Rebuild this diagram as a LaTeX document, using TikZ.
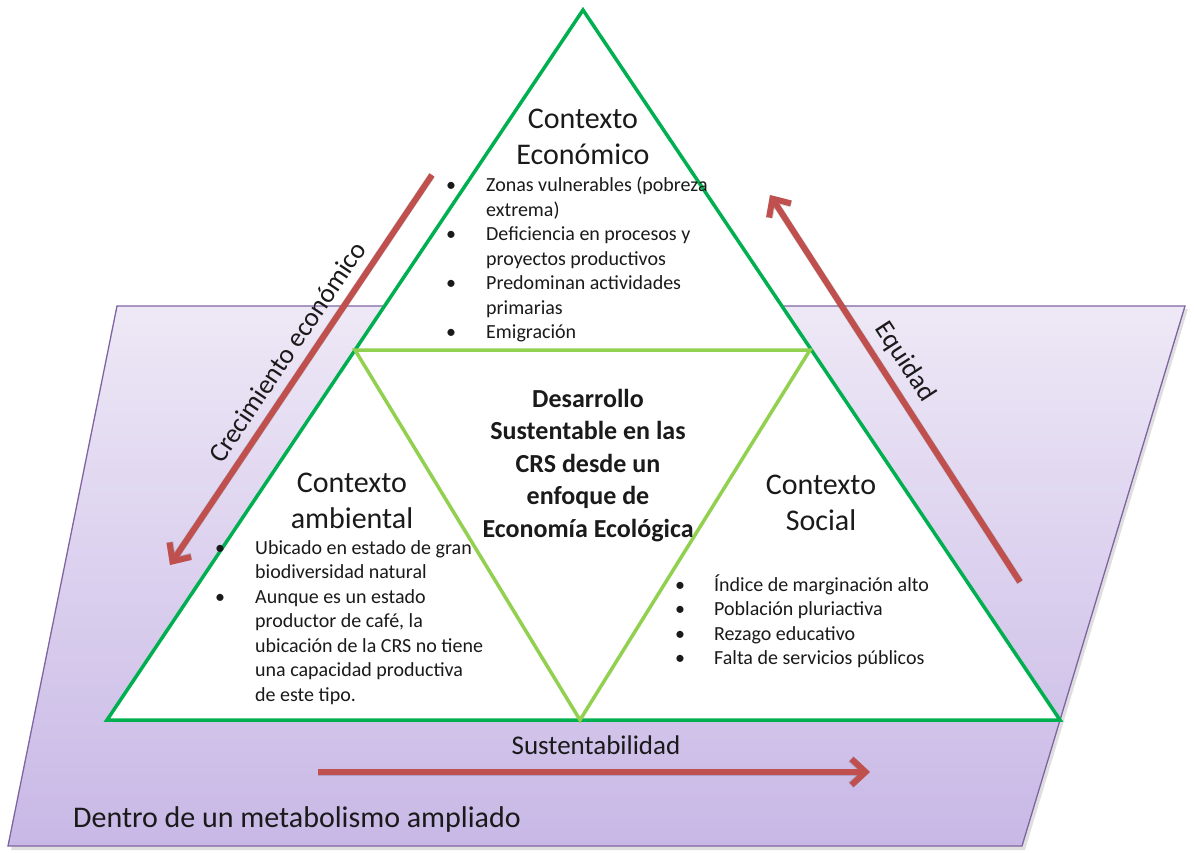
\documentclass[tikz,border=0pt]{standalone}
\usepackage{fontspec}
\setmainfont{Carlito}
\usetikzlibrary{arrows.meta}
\definecolor{arrred}{HTML}{C0504D}
\definecolor{darkgreen}{HTML}{00B050}
\definecolor{lightgreen}{HTML}{92D050}
\definecolor{purpleline}{HTML}{8064A2}
\definecolor{purpletop}{HTML}{EEE8F6}
\definecolor{purplebot}{HTML}{C8B8E6}
\definecolor{txt}{HTML}{1A1A1A}
\tikzset{
  redarrow/.style={draw=arrred, line width=6pt, -{Straight Barb[length=14pt,width=26pt]}},
  arrowshadow/.style={draw=black, opacity=0.15, line width=7pt, -{Straight Barb[length=14pt,width=26pt]}},
  headtxt/.style={anchor=base, inner sep=0pt, text=txt, font=\fontsize{30}{36}\selectfont},
  bullettxt/.style={anchor=base west, inner sep=0pt, text=txt, font=\fontsize{20}{24.5}\selectfont},
  centertxt/.style={anchor=base, inner sep=0pt, text=txt, font=\bfseries\fontsize{26}{32.5}\selectfont},
  sidetxt/.style={inner sep=0pt, text=txt, font=\fontsize{27}{32}\selectfont},
}
\begin{document}
\begin{tikzpicture}[x=1pt,y=-1pt]
\useasboundingbox (0,0) rectangle (1194,853);
% background plane
\fill[black!25, opacity=0.5] (120,309) -- (1188,309) -- (1025,850) -- (11,850) -- cycle;
\shade[top color=purpletop, bottom color=purplebot, draw=purpleline, line width=1.3pt]
  (117,306) -- (1185,306) -- (1022,846) -- (8,846) -- cycle;
% outer triangle
\coordinate (apex) at (583,10);
\coordinate (bl) at (107,720);
\coordinate (br) at (1060,720);
\coordinate (ml) at (355,350);
\coordinate (mr) at (810,350);
\coordinate (mb) at (580,720);
\filldraw[fill=white, draw=darkgreen, line width=3.5pt, line join=miter] (apex) -- (br) -- (bl) -- cycle;
\draw[lightgreen, line width=3.5pt, line join=miter] (ml) -- (mr) -- (mb) -- cycle;
% arrows
\coordinate (c1) at (432,175); \coordinate (c2) at (170,565);
\coordinate (e1) at (1020,582); \coordinate (e2) at (770,195);
\coordinate (s1) at (318,772); \coordinate (s2) at (870,772);
\begin{scope}[shift={(2,3)}]
\draw[arrowshadow] (c1) -- (c2);
\draw[arrowshadow] (e1) -- (e2);
\draw[arrowshadow] (s1) -- (s2);
\end{scope}
\draw[redarrow] (c1) -- (c2);
\draw[redarrow] (e1) -- (e2);
\draw[redarrow] (s1) -- (s2);
% side labels
\node[sidetxt, rotate=56] (lcrec) at (287,352) {Crecimiento económico};
\node[sidetxt, rotate=-57] (lequ) at (905,362) {Equidad};
\node[sidetxt, anchor=base] (lsus) at (596,754) {Sustentabilidad};
\node[anchor=base west, inner sep=0pt, text=txt, font=\fontsize{30}{36}\selectfont] (ldentro) at (73,827) {Dentro de un metabolismo ampliado};
% headings
\node[headtxt] (hecon) at (583,129) {\begin{tabular}[t]{@{}c@{}}Contexto\\Económico\end{tabular}};
\node[headtxt] (hamb) at (352,492) {\begin{tabular}[t]{@{}c@{}}Contexto\\ambiental\end{tabular}};
\node[headtxt] (hsoc) at (821,494) {\begin{tabular}[t]{@{}c@{}}Contexto\\Social\end{tabular}};
% center
\node[centertxt] (center) at (588,407) {\begin{tabular}[t]{@{}c@{}}Desarrollo\\Sustentable en las\\CRS desde un\\enfoque de\\Economía Ecológica\end{tabular}};
% bullet lists
\node[bullettxt] (becon) at (446,192) {\begin{tabular}[t]{@{}p{40pt}@{}l@{}}
\textbullet & Zonas vulnerables (pobreza\\
 & extrema)\\
\textbullet & Deficiencia en procesos y\\
 & proyectos productivos\\
\textbullet & Predominan actividades\\
 & primarias\\
\textbullet & Emigración\end{tabular}};
\node[bullettxt] (bamb) at (215,554) {\begin{tabular}[t]{@{}p{40pt}@{}l@{}}
\textbullet & Ubicado en estado de gran\\
 & biodiversidad natural\\
\textbullet & Aunque es un estado\\
 & productor de café, la\\
 & ubicación de la CRS no tiene\\
 & una capacidad productiva\\
 & de este tipo.\end{tabular}};
\node[bullettxt] (bsoc) at (675,591) {\begin{tabular}[t]{@{}p{39pt}@{}l@{}}
\textbullet & Índice de marginación alto\\
\textbullet & Población pluriactiva\\
\textbullet & Rezago educativo\\
\textbullet & Falta de servicios públicos\end{tabular}};
\end{tikzpicture}
\end{document}
